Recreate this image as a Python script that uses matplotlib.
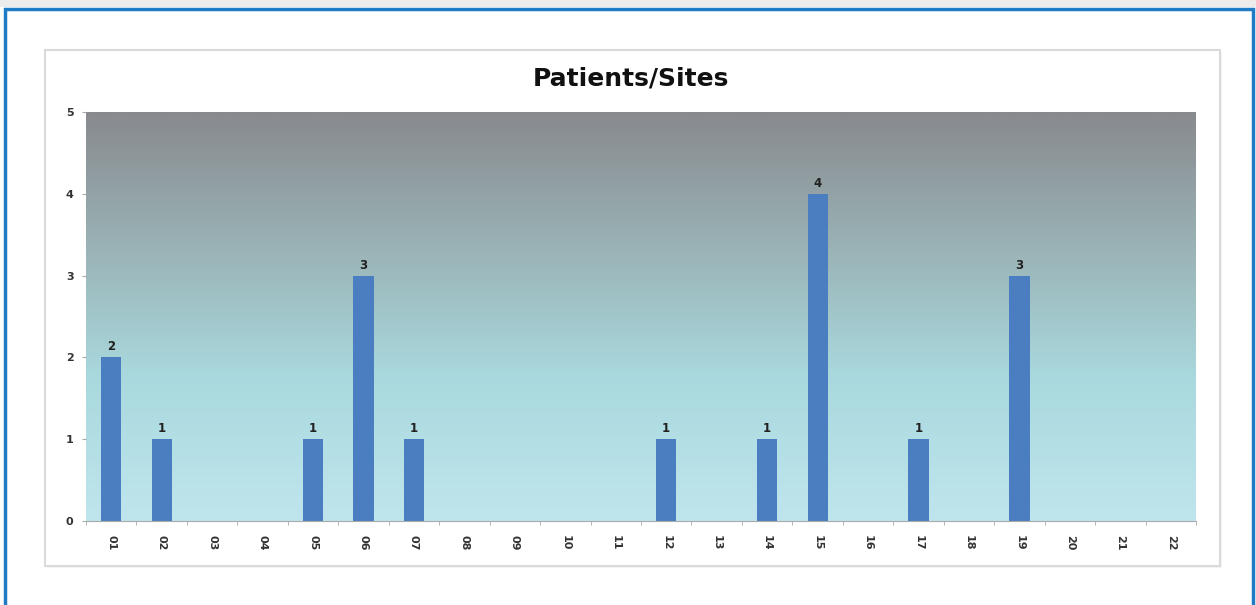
import numpy as np
import matplotlib.pyplot as plt
from matplotlib.colors import LinearSegmentedColormap
from matplotlib.patches import Rectangle

# sites and number of patients per site
sites = ['01', '02', '03', '04', '05', '06', '07', '08', '09', '10', '11',
         '12', '13', '14', '15', '16', '17', '18', '19', '20', '21', '22']
patients = [2, 1, 0, 0, 1, 3, 1, 0, 0, 0, 0,
            1, 0, 1, 4, 0, 1, 0, 3, 0, 0, 0]

fig = plt.figure(figsize=(12.56, 6.05), dpi=100)
W, H = 1256, 605

# page background + blue outer border
fig.patches.append(Rectangle((0, 0), 1, 1, transform=fig.transFigure,
                             facecolor='#ffffff', edgecolor='none', zorder=-10))
fig.patches.append(Rectangle((0, (H - 7) / H), 1, 7 / H, transform=fig.transFigure,
                             facecolor='#ececec', edgecolor='none', zorder=-9))
fig.patches.append(Rectangle((4.5 / W, -0.05), (1253 - 4.5) / W, (H - 8.5) / H + 0.05,
                             transform=fig.transFigure, facecolor='none',
                             edgecolor='#1f7cc4', linewidth=2.5, zorder=-8))
# chart frame
fig.patches.append(Rectangle((47 / W, (H - 568) / H), 1175 / W, 516 / H,
                             transform=fig.transFigure, facecolor='#f4f4f4',
                             edgecolor='none', zorder=-7))
fig.patches.append(Rectangle((45 / W, (H - 566) / H), 1175 / W, 516 / H,
                             transform=fig.transFigure, facecolor='white',
                             edgecolor='#dadada', linewidth=1.5, zorder=-6))

left, right, top, bottom = 86, 1196, 112, 521
ax = fig.add_axes([left / W, (H - bottom) / H, (right - left) / W, (bottom - top) / H])

x = np.arange(len(sites))
ax.set_xlim(-0.5, len(sites) - 0.5)
ax.set_ylim(0, 5)

# gray-to-aqua gradient behind the bars
cmap = LinearSegmentedColormap.from_list(
    'bg', [(0.0, '#bfe5ed'), (0.35, '#a9d9de'), (0.65, '#9bb5b8'), (1.0, '#888a8e')])
grad = np.linspace(0, 1, 256).reshape(-1, 1)
ax.imshow(grad, cmap=cmap, aspect='auto', origin='lower',
          extent=[0, 1, 0, 1], transform=ax.transAxes, zorder=0)

ax.bar(x, patients, width=0.4, color='#4a7ec0', zorder=2)
for xi, v in zip(x, patients):
    if v > 0:
        ax.text(xi, v + 0.05, str(v), ha='center', va='bottom',
                fontsize=8.5, fontweight='bold', color='#222222', zorder=3)

ax.set_xticks(x)
ax.set_xticklabels(sites, rotation=270, fontsize=8, fontweight='bold', color='#333333')
ax.set_xticks(np.arange(-0.5, len(sites)), minor=True)
ax.tick_params(axis='x', which='major', length=0, pad=10)
ax.tick_params(axis='x', which='minor', length=3, color='#aaaaaa')
ax.set_yticks(range(6))
ax.set_yticklabels([str(i) for i in range(6)], fontsize=8, fontweight='bold', color='#333333')
ax.tick_params(axis='y', length=3, color='#aaaaaa', pad=6)

for s in ['top', 'right', 'left']:
    ax.spines[s].set_visible(False)
ax.spines['bottom'].set_color('#aaaaaa')

fig.text(631 / W, (H - 79) / H, 'Patients/Sites', ha='center', va='center',
         fontsize=18, fontweight='heavy', color='#111111')

fig.savefig('out.png', dpi=100)
